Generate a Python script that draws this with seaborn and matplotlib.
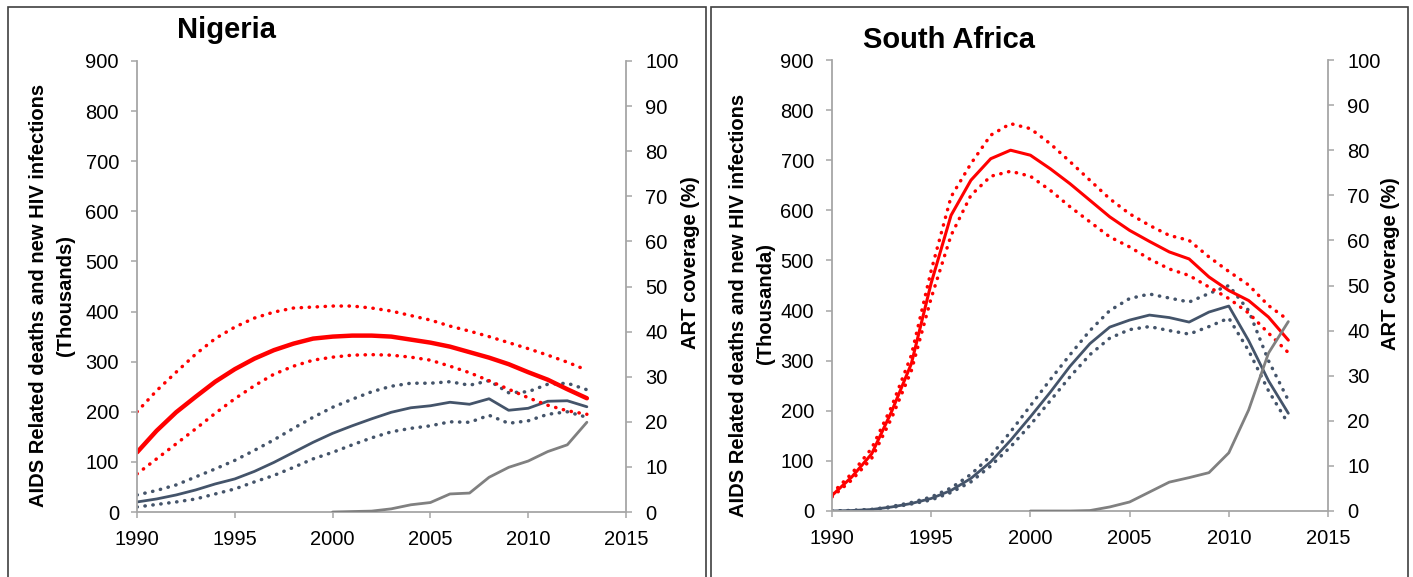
import matplotlib
matplotlib.use("Agg")
import matplotlib.pyplot as plt
import seaborn as sns
import pandas as pd
from matplotlib.patches import Rectangle

# ---------------- data ----------------
years = list(range(1990, 2014))
art_years = list(range(2000, 2014))

# Nigeria (thousands)
ng_inf = [119, 162, 199, 230, 260, 285, 306, 323, 336, 346, 350, 352, 352, 350, 344, 338, 330, 319, 308, 295, 279, 264, 245, 227]
ng_inf_hi = [200, 242, 279, 315, 346, 369, 387, 399, 407, 409, 411, 411, 407, 401, 392, 383, 371, 361, 350, 338, 326, 313, 299, 283]
ng_inf_lo = [76, 106, 136, 166, 197, 226, 252, 275, 291, 303, 309, 313, 314, 313, 309, 303, 291, 278, 262, 245, 228, 213, 202, 195]
ng_dth = [20, 26, 34, 44, 56, 66, 81, 99, 119, 139, 157, 172, 186, 199, 208, 212, 219, 215, 226, 203, 207, 221, 222, 210]
ng_dth_hi = [34, 43, 54, 70, 86, 103, 123, 144, 167, 189, 209, 225, 240, 251, 257, 257, 260, 253, 262, 238, 240, 255, 257, 244]
ng_dth_lo = [10, 15, 20, 26, 36, 46, 60, 73, 89, 106, 119, 134, 148, 160, 167, 172, 180, 179, 193, 177, 182, 195, 200, 189]
ng_art = [0, 0.1, 0.2, 0.7, 1.6, 2.1, 4.0, 4.2, 7.7, 9.9, 11.3, 13.4, 14.9, 19.9]

# South Africa (thousands)
sa_inf = [31, 68, 114, 198, 294, 455, 590, 660, 703, 720, 710, 683, 653, 620, 587, 560, 538, 517, 503, 467, 440, 420, 387, 341]
sa_inf_hi = [35, 75, 125, 208, 311, 480, 627, 693, 750, 773, 763, 733, 697, 660, 623, 593, 570, 550, 540, 507, 478, 451, 410, 381]
sa_inf_lo = [28, 62, 105, 185, 280, 425, 550, 630, 668, 678, 668, 640, 607, 577, 547, 527, 503, 483, 470, 447, 424, 395, 355, 316]
sa_dth = [0, 1, 3, 8, 15, 25, 41, 65, 98, 141, 188, 237, 289, 334, 367, 381, 391, 386, 377, 397, 409, 340, 260, 195]
sa_dth_hi = [0, 1, 3, 9, 17, 28, 46, 73, 110, 158, 210, 262, 312, 360, 400, 424, 433, 425, 417, 434, 450, 400, 300, 221]
sa_dth_lo = [0, 1, 3, 7, 14, 22, 37, 58, 90, 128, 172, 220, 268, 312, 345, 362, 368, 360, 353, 368, 385, 320, 240, 174]
sa_art = [0, 0, 0, 0.1, 0.9, 2.0, 4.2, 6.4, 7.4, 8.5, 12.9, 22.4, 35, 42]

x_ticks = [1990, 1995, 2000, 2005, 2010, 2015]
y_ticks = [0, 100, 200, 300, 400, 500, 600, 700, 800, 900]
y2_ticks = [0, 10, 20, 30, 40, 50, 60, 70, 80, 90, 100]

# ---------------- style ----------------
sns.set_style("white")
plt.rcParams["font.family"] = ["Liberation Sans", "DejaVu Sans"]
plt.rcParams["text.color"] = "black"

RED = "#FF0000"
BLUE = "#44546A"
GRAY = "#808080"
SPINE = "#A6A6A6"
DOT = (0, (0.1, 2.2))

W, H = 1413, 577
fig = plt.figure(figsize=(W / 100, H / 100), dpi=100)


def frac_rect(x0, y_top, x1, y_bot):
    return [x0 / W, 1 - y_bot / H, (x1 - x0) / W, (y_bot - y_top) / H]


def draw_panel(rect, inf, inf_hi, inf_lo, dth, dth_hi, dth_lo, art, red_lw):
    ax = fig.add_axes(rect)
    df = pd.DataFrame({"year": years, "inf": inf, "inf_hi": inf_hi, "inf_lo": inf_lo,
                       "dth": dth, "dth_hi": dth_hi, "dth_lo": dth_lo})
    dotkw = dict(linewidth=2.5, linestyle=DOT, dash_capstyle="round")
    sns.lineplot(data=df, x="year", y="dth_hi", ax=ax, color=BLUE, **dotkw)
    sns.lineplot(data=df, x="year", y="dth_lo", ax=ax, color=BLUE, **dotkw)
    sns.lineplot(data=df, x="year", y="dth", ax=ax, color=BLUE, linewidth=2.0)
    sns.lineplot(data=df, x="year", y="inf_hi", ax=ax, color=RED, **dotkw)
    sns.lineplot(data=df, x="year", y="inf_lo", ax=ax, color=RED, **dotkw)
    sns.lineplot(data=df, x="year", y="inf", ax=ax, color=RED, linewidth=red_lw)

    ax.set_xlim(1990, 2015)
    ax.set_ylim(0, 900)
    ax.set_xticks(x_ticks)
    ax.set_yticks(y_ticks)
    ax.set_xlabel("")
    ax.set_ylabel("")
    ax.patch.set_alpha(0)
    for s in ["top", "right"]:
        ax.spines[s].set_visible(False)
    for s in ["left", "bottom"]:
        ax.spines[s].set_color(SPINE)
        ax.spines[s].set_linewidth(1.3)
    ax.tick_params(axis="both", direction="out", length=4, width=1.1, color=SPINE,
                   labelcolor="black", labelsize=14.5, pad=9, left=True, bottom=True)

    ax2 = ax.twinx()
    dfa = pd.DataFrame({"year": art_years, "art": art})
    sns.lineplot(data=dfa, x="year", y="art", ax=ax2, color=GRAY, linewidth=2.0)
    ax2.set_ylim(0, 100)
    ax2.set_xlim(1990, 2015)
    ax2.set_yticks(y2_ticks)
    ax2.set_ylabel("")
    for s in ["top", "left", "bottom"]:
        ax2.spines[s].set_visible(False)
    ax2.spines["right"].set_color(SPINE)
    ax2.spines["right"].set_linewidth(1.3)
    ax2.tick_params(axis="y", direction="out", length=4, width=1.1, color=SPINE,
                    labelcolor="black", labelsize=14.5, pad=10, right=True)
    return ax, ax2


# Left panel: Nigeria
draw_panel(frac_rect(137, 61, 626, 512), ng_inf, ng_inf_hi, ng_inf_lo,
           ng_dth, ng_dth_hi, ng_dth_lo, ng_art, red_lw=3.2)
# Right panel: South Africa
draw_panel(frac_rect(832, 60, 1328, 511), sa_inf, sa_inf_hi, sa_inf_lo,
           sa_dth, sa_dth_hi, sa_dth_lo, sa_art, red_lw=2.2)

# Titles
fig.text(226 / W, 1 - 30 / H, "Nigeria", ha="center", va="center",
         fontsize=21, fontweight="bold", color="black")
fig.text(949 / W, 1 - 40 / H, "South Africa", ha="center", va="center",
         fontsize=21, fontweight="bold", color="black")

# Y labels
lab_kw = dict(rotation=90, ha="center", va="center", fontsize=14.5,
              fontweight="bold", color="black")
fig.text(38.5 / W, 1 - 295 / H, "AIDS Related deaths and new HIV infections", **lab_kw)
fig.text(66 / W, 1 - 296 / H, "(Thousands)", **lab_kw)
fig.text(690 / W, 1 - 263 / H, "ART coverage (%)", **lab_kw)

fig.text(738 / W, 1 - 305 / H, "AIDS Related deaths and new HIV infections", **lab_kw)
fig.text(765 / W, 1 - 303 / H, "(Thousanda)", **lab_kw)
fig.text(1390 / W, 1 - 264 / H, "ART coverage (%)", **lab_kw)

# Panel borders
for x0, x1 in [(8, 706), (711, 1408)]:
    fig.patches.append(Rectangle((x0 / W, -0.05), (x1 - x0) / W, 1.05 - 7 / H,
                                 transform=fig.transFigure, fill=False,
                                 edgecolor="#404040", linewidth=1.2))

fig.savefig("out.png", dpi=100)
